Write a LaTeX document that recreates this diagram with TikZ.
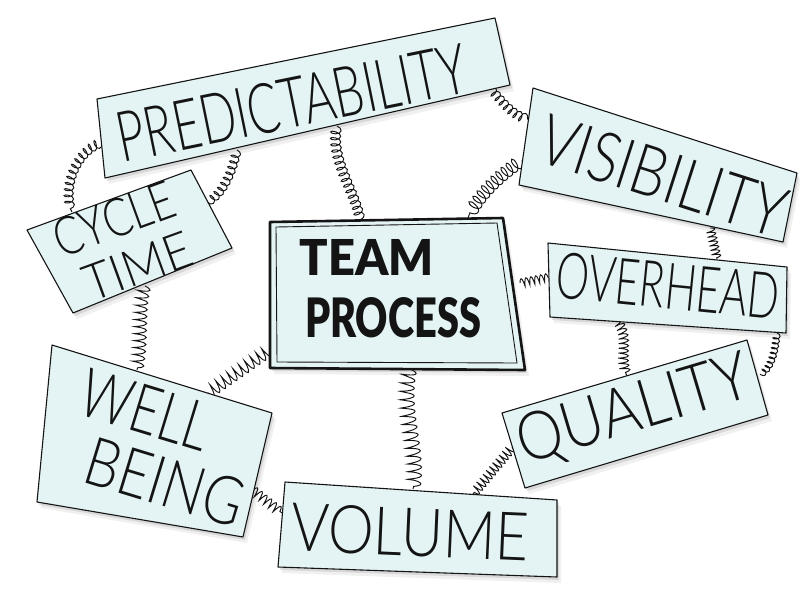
\documentclass[tikz,border=0pt]{standalone}
\usepackage{fontspec}
\usepackage{graphicx}
\usetikzlibrary{decorations.pathmorphing,calc}
\IfFontExistsTF{Lato Light}{\newfontfamily\handfont{Lato Light}}{\newfontfamily\handfont{Liberation Sans}}
\IfFontExistsTF{Lato Black}{\newfontfamily\markfont{Lato Black}}{\newfontfamily\markfont{Liberation Sans Bold}}
\newcommand{\hwtext}[3]{\resizebox{#1}{#2}{\handfont #3}}
\newcommand{\mktext}[3]{\resizebox{#1}{#2}{\markfont #3}}
\definecolor{boxfill}{RGB}{228,244,244}
\definecolor{inkc}{RGB}{20,20,20}
\tikzset{
  boxquad/.style={draw=inkc, line width=1.1pt, fill=boxfill, line join=round},
  shadowc/.style={fill=black, opacity=0.10},
  springy/.style={draw=inkc, line width=0.95pt, decorate,
     decoration={coil, amplitude=4.5pt, segment length=6pt, aspect=0.5}},
  zig/.style={draw=inkc, line width=0.95pt, decorate,
     decoration={coil, amplitude=5pt, segment length=6pt, aspect=0.15}},
  label/.style={inner sep=0pt, text=inkc}
}
\begin{document}
\begin{tikzpicture}[x=1pt,y=-1pt]
\useasboundingbox (0,0) rectangle (800,600);
% box corners
\coordinate (p1) at (97,99);  \coordinate (p2) at (495,18);  \coordinate (p3) at (510,85);  \coordinate (p4) at (105,178);
\coordinate (c1) at (27,230); \coordinate (c2) at (191,170); \coordinate (c3) at (232,248); \coordinate (c4) at (73,313);
\coordinate (t1) at (270,222); \coordinate (t2) at (503,218); \coordinate (t3) at (525,370); \coordinate (t4) at (270,368);
\coordinate (v1) at (533,88); \coordinate (v2) at (797,173); \coordinate (v3) at (783,242); \coordinate (v4) at (519,185);
\coordinate (o1) at (548,243); \coordinate (o2) at (787,267); \coordinate (o3) at (786,333); \coordinate (o4) at (550,317);
\coordinate (q1) at (502,413); \coordinate (q2) at (747,340); \coordinate (q3) at (768,415); \coordinate (q4) at (525,488);
\coordinate (w1) at (52,345); \coordinate (w2) at (272,413); \coordinate (w3) at (243,537); \coordinate (w4) at (37,502);
\coordinate (u1) at (285,482); \coordinate (u2) at (557,500); \coordinate (u3) at (557,577); \coordinate (u4) at (278,567);
% shadows
\foreach \b in {p,c,t,v,o,q,w,u}{
  \fill[shadowc] ([shift={(2,3)}]\b1) -- ([shift={(2,3)}]\b2) -- ([shift={(2,3)}]\b3) -- ([shift={(2,3)}]\b4) -- cycle;
  \fill[shadowc, opacity=0.06] ([shift={(4,6)}]\b1) -- ([shift={(4,6)}]\b2) -- ([shift={(4,6)}]\b3) -- ([shift={(4,6)}]\b4) -- cycle;
}
% spring end points
\coordinate (s1a) at (102,143); \coordinate (s1b) at (72,212);
\coordinate (s2a) at (237,150); \coordinate (s2b) at (207,202);
\coordinate (s3a) at (337,126); \coordinate (s3b) at (360,220);
\coordinate (s4a) at (490,88);  \coordinate (s4b) at (530,118);
\coordinate (s5a) at (522,160); \coordinate (s5b) at (468,218);
\coordinate (s6a) at (710,228); \coordinate (s6b) at (717,259);
\coordinate (s7a) at (520,283); \coordinate (s7b) at (550,277);
\coordinate (s8a) at (617,320); \coordinate (s8b) at (627,376);
\coordinate (s9a) at (777,333); \coordinate (s9b) at (760,374);
\coordinate (s10a) at (410,369); \coordinate (s10b) at (413,489);
\coordinate (s11a) at (512,447); \coordinate (s11b) at (473,494);
\coordinate (s12a) at (270,350); \coordinate (s12b) at (207,394);
\coordinate (s13a) at (145,286); \coordinate (s13b) at (137,370);
\coordinate (s14a) at (253,490); \coordinate (s14b) at (282,513);
% springs
\draw[springy] (s1a) .. controls (78,150) and (62,185) .. (s1b);
\draw[springy] (s2a) .. controls (230,180) and (220,195) .. (s2b);
\draw[springy, decoration={amplitude=5pt, segment length=6pt}] (s3a) .. controls (330,160) and (355,190) .. (s3b);
\draw[springy] (s4a) .. controls (505,105) and (515,118) .. (s4b);
\draw[springy, decoration={amplitude=6.5pt, segment length=6.5pt}] (s5a) .. controls (500,175) and (478,195) .. (s5b);
\draw[zig, decoration={amplitude=4.5pt, segment length=4.5pt}] (s6a) -- (s6b);
\draw[zig, decoration={amplitude=4pt, segment length=5pt}] (s7a) -- (s7b);
\draw[zig, decoration={amplitude=5pt, segment length=5pt}] (s8a) .. controls (630,340) and (618,355) .. (s8b);
\draw[springy, decoration={amplitude=3.5pt, segment length=5pt}] (s9a) .. controls (775,350) and (772,368) .. (s9b);
\draw[zig, decoration={amplitude=7pt, segment length=8pt}] (s10a) .. controls (400,410) and (420,450) .. (s10b);
\draw[zig, decoration={amplitude=5pt, segment length=5pt}] (s11a) -- (s11b);
\draw[zig, decoration={amplitude=6pt, segment length=7pt}] (s12a) -- (s12b);
\draw[zig, decoration={amplitude=6pt, segment length=7pt}] (s13a) .. controls (138,310) and (143,340) .. (s13b);
\draw[zig, decoration={amplitude=4.5pt, segment length=6pt}] (s14a) -- (s14b);
% boxes
\foreach \b in {p,c,v,o,q,w,u}{
  \draw[boxquad] (\b1) -- (\b2) -- (\b3) -- (\b4) -- cycle;
}
\draw[boxquad, line width=2.6pt] (t1) -- (t2) -- (t3) -- (t4) -- cycle;
\coordinate (ti1) at (276,227); \coordinate (ti2) at (497,223); \coordinate (ti3) at (517,363); \coordinate (ti4) at (277,362);
\draw[draw=inkc, line width=0.9pt] (ti1) -- (ti2) -- (ti3) -- (ti4) -- cycle;
% labels
\node[label, rotate=11.5] (predict) at (292,103) {\hwtext{355pt}{50pt}{PREDICTABILITY}};
\node[label, rotate=20] (cycle) at (114,219) {\hwtext{126pt}{38pt}{CYCLE}};
\node[label, rotate=20] (time) at (138,266) {\hwtext{112pt}{36pt}{TIME}};
\node[label] (team) at (367,257) {\mktext{134pt}{36pt}{TEAM}};
\node[label] (process) at (393,318) {\mktext{176pt}{40pt}{PROCESS}};
\node[label, rotate=-17.8] (visib) at (663,176) {\hwtext{255pt}{50pt}{VISIBILITY}};
\node[label, rotate=-5.7] (overhead) at (668,286) {\hwtext{224pt}{46pt}{OVERHEAD}};
\node[label, rotate=16.6] (quality) at (634,412) {\hwtext{240pt}{48pt}{QUALITY}};
\node[label, rotate=-17] (well) at (146,410) {\hwtext{132pt}{48pt}{WELL}};
\node[label, rotate=-17] (being) at (165,482) {\hwtext{162pt}{48pt}{BEING}};
\node[label, rotate=-2.5] (volume) at (410,532) {\hwtext{238pt}{48pt}{VOLUME}};
\end{tikzpicture}
\end{document}
